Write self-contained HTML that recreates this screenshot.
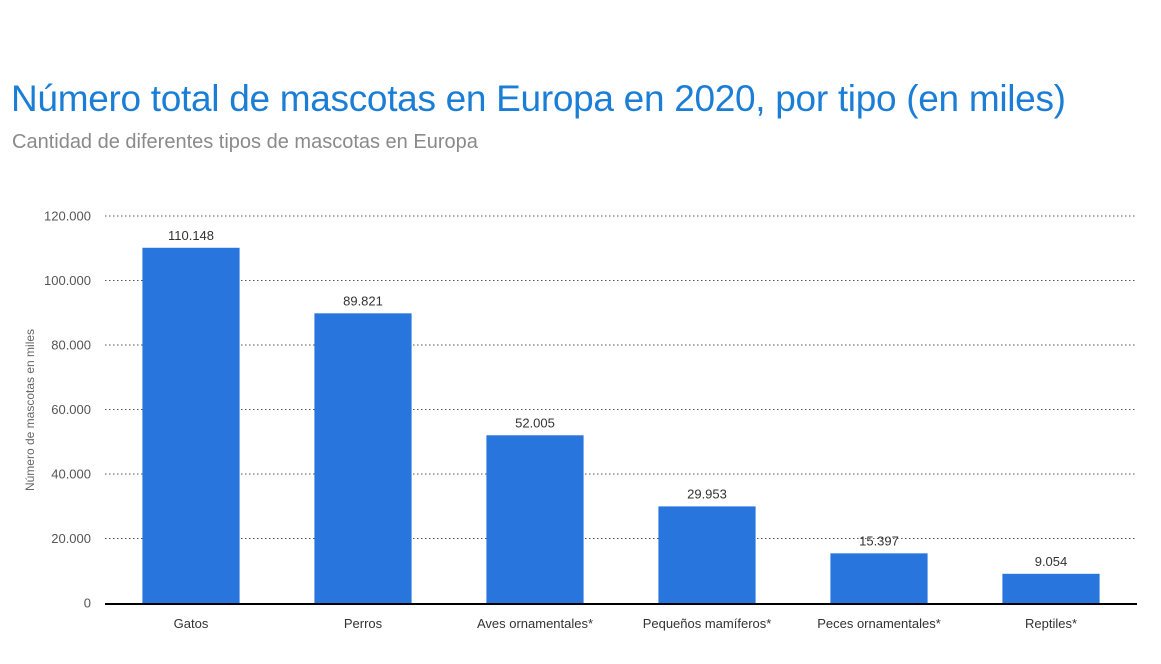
<!DOCTYPE html>
<html><head><meta charset="utf-8"><style>
body{margin:0;background:#fff;font-family:"Liberation Sans",sans-serif;}
#wrap{position:relative;width:1161px;height:664px;overflow:hidden;}
h1{position:absolute;left:11px;top:78px;margin:0;font-weight:normal;font-size:37px;color:#1b7ed6;white-space:nowrap;letter-spacing:-0.3px;}
h2{position:absolute;left:12px;top:131px;margin:0;font-weight:normal;font-size:20px;color:#8a8a8a;white-space:nowrap;}
</style></head><body><div id="wrap">
<h1>Número total de mascotas en Europa en 2020, por tipo (en miles)</h1>
<h2>Cantidad de diferentes tipos de mascotas en Europa</h2>
<svg id="svg" width="1161" height="664" style="position:absolute;left:0;top:0"></svg>
</div>
<script>
const categories=["Gatos","Perros","Aves ornamentales*","Pequeños mamíferos*","Peces ornamentales*","Reptiles*"];
const values=[110148,89821,52005,29953,15397,9054];
const valueLabels=["110.148","89.821","52.005","29.953","15.397","9.054"];
const ticks=[0,20000,40000,60000,80000,100000,120000];
const tickLabels=["0","20.000","40.000","60.000","80.000","100.000","120.000"];
const svg=document.getElementById('svg');const NS="http://www.w3.org/2000/svg";
const x0=105,x1=1137,y0=603,ymax=120000,yTop=216;
const band=(x1-x0)/categories.length;
function y(v){return y0-(v/ymax)*(y0-yTop);}
function xc(i){return x0+band*(i+0.5);}
function mk(t,a,txt){const e=document.createElementNS(NS,t);for(const k in a)e.setAttribute(k,a[k]);if(txt!==undefined)e.textContent=txt;svg.appendChild(e);return e;}
ticks.forEach((t,i)=>{
 if(t>0){const g=mk('line',{x1:x0,x2:x1,y1:y(t),y2:y(t),stroke:'#555','stroke-width':1,'stroke-dasharray':'1.5,2.5'});
 
 }
 const l=mk('text',{x:91,y:y(t)+4.5,'text-anchor':'end','font-size':13,fill:'#555'},tickLabels[i]);
 
 
});
const yt=mk('text',{x:0,y:0,transform:'translate(34,410) rotate(-90)','text-anchor':'middle','font-size':12,fill:'#666'},'Número de mascotas en miles');


values.forEach((v,i)=>{
 const w=band*0.565;
 const b=mk('rect',{x:xc(i)-w/2,y:y(v),width:w,height:y0-y(v),fill:'#2876dd'});
 
 
 const vl=mk('text',{x:xc(i),y:y(v)-8,'text-anchor':'middle','font-size':13,fill:'#333'},valueLabels[i]);
 
 
 const cl=mk('text',{x:xc(i),y:628,'text-anchor':'middle','font-size':13,fill:'#333'},categories[i]);
 
 
});
const ax=mk('line',{x1:x0,x2:x1,y1:y0+1,y2:y0+1,stroke:'#000','stroke-width':2});


</script></body></html>
